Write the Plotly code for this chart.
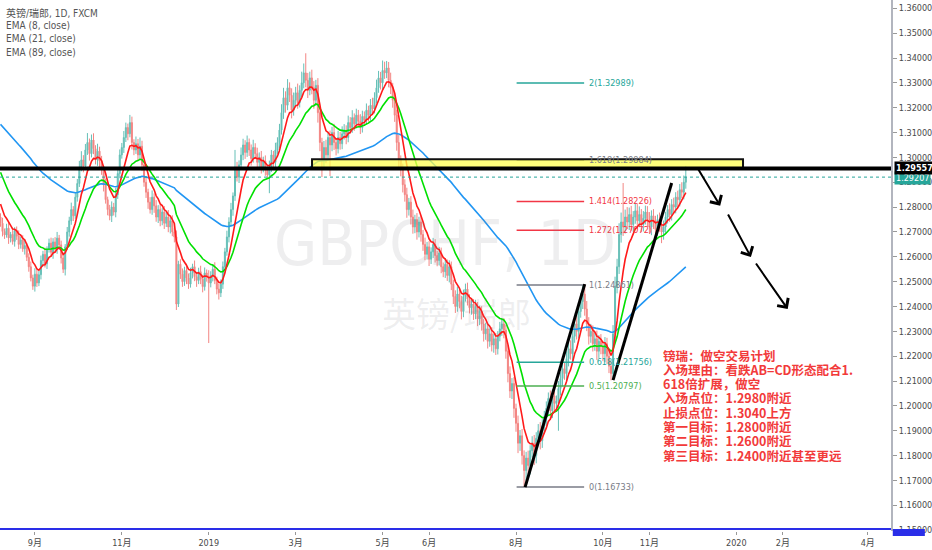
import pandas as pd
import plotly.graph_objects as go

# GBPCHF daily (FXCM), one value per bar. bar 0 = 2018-08-09
first_open = 1.2760
closes = [
    1.2735, 1.2702, 1.2688, 1.2715, 1.2676, 1.2690, 1.2662, 1.2705, 1.2683, 1.2650,
    1.2668, 1.2632, 1.2645, 1.2598, 1.2560, 1.2515, 1.2482, 1.2530, 1.2495, 1.2528,
    1.2585, 1.2610, 1.2572, 1.2630, 1.2655, 1.2618, 1.2660, 1.2632, 1.2675, 1.2648,
    1.2595, 1.2550, 1.2640, 1.2700, 1.2745, 1.2790, 1.2765, 1.2840, 1.2895, 1.2960,
    1.2990, 1.2965, 1.3030, 1.3060, 1.3015, 1.3070, 1.3035, 1.2990, 1.3025, 1.2985,
    1.2950, 1.2890, 1.2830, 1.2790, 1.2765, 1.2800, 1.2780, 1.2850, 1.2935, 1.3010,
    1.3040, 1.3080, 1.3120, 1.3095, 1.3140, 1.3060, 1.3030, 1.3055, 1.3010, 1.3045,
    1.2970, 1.2900, 1.2860, 1.2820, 1.2790, 1.2840, 1.2805, 1.2760, 1.2790, 1.2745,
    1.2780, 1.2735, 1.2760, 1.2720, 1.2745, 1.2700, 1.2680, 1.2410, 1.2570, 1.2530,
    1.2500, 1.2545, 1.2515, 1.2490, 1.2535, 1.2560, 1.2520, 1.2505, 1.2540, 1.2510,
    1.2480, 1.2535, 1.2520, 1.2495, 1.2525, 1.2550, 1.2505, 1.2470, 1.2455, 1.2490,
    1.2560, 1.2620, 1.2680, 1.2740, 1.2790, 1.2845, 1.2960, 1.2920, 1.2970, 1.3010,
    1.3050, 1.3020, 1.3060, 1.3030, 1.2995, 1.3040, 1.3015, 1.2980, 1.3000, 1.2960,
    1.2985, 1.2950, 1.2930, 1.2960, 1.3010, 1.2980, 1.3030, 1.3060, 1.3110, 1.3180,
    1.3240, 1.3210, 1.3280, 1.3250, 1.3190, 1.3230, 1.3260, 1.3220, 1.3270, 1.3300,
    1.3340, 1.3310, 1.3270, 1.3320, 1.3280, 1.3230, 1.3290, 1.3180, 1.3060, 1.2990,
    1.3040, 1.3010, 1.3080, 1.3050, 1.3100, 1.3060, 1.3035, 1.3080, 1.3055, 1.3095,
    1.3110, 1.3080, 1.3140, 1.3120, 1.3160, 1.3135, 1.3170, 1.3145, 1.3120, 1.3165,
    1.3150, 1.3190, 1.3170, 1.3210, 1.3195, 1.3240, 1.3280, 1.3320, 1.3300, 1.3350,
    1.3340, 1.3360, 1.3310, 1.3280, 1.3230, 1.3170, 1.3060, 1.2990, 1.2950, 1.2890,
    1.2850, 1.2790, 1.2820, 1.2760, 1.2720, 1.2750, 1.2700, 1.2740, 1.2690, 1.2650,
    1.2610, 1.2640, 1.2590, 1.2620, 1.2650, 1.2605, 1.2585, 1.2615, 1.2560, 1.2540,
    1.2570, 1.2525, 1.2560, 1.2490, 1.2440, 1.2400, 1.2450, 1.2420, 1.2380, 1.2440,
    1.2470, 1.2430, 1.2395, 1.2410, 1.2370, 1.2400, 1.2350, 1.2380, 1.2330, 1.2290,
    1.2310, 1.2260, 1.2290, 1.2245, 1.2270, 1.2230, 1.2280, 1.2310, 1.2330, 1.2305,
    1.2220, 1.2130, 1.2060, 1.2090, 1.1990, 1.1930, 1.1850, 1.1880, 1.1800, 1.1740,
    1.1790, 1.1760, 1.1820, 1.1850, 1.1800, 1.1870, 1.1900, 1.1860, 1.1920, 1.1950,
    1.1990, 1.2030, 1.1980, 1.2040, 1.2010, 1.2020, 1.2070, 1.2110, 1.2150, 1.2130,
    1.2190, 1.2230, 1.2210, 1.2280, 1.2330, 1.2300, 1.2380, 1.2420, 1.2450, 1.2390,
    1.2330, 1.2280, 1.2300, 1.2250, 1.2270, 1.2220, 1.2260, 1.2240, 1.2210, 1.2250,
    1.2200, 1.2160, 1.2130, 1.2290, 1.2480, 1.2560, 1.2690, 1.2740, 1.2720, 1.2760,
    1.2740, 1.2770, 1.2730, 1.2760, 1.2785, 1.2745, 1.2770, 1.2730, 1.2755, 1.2780,
    1.2750, 1.2720, 1.2765, 1.2740, 1.2710, 1.2750, 1.2730, 1.2700, 1.2720, 1.2760,
    1.2790, 1.2770, 1.2810, 1.2800, 1.2840, 1.2830, 1.2870, 1.2860, 1.2900, 1.29207,
]
# wick lengths above / below the body, in pips
wick_up = [
    15, 22, 12, 18, 25, 10, 20, 14, 17, 23,
    12, 19, 26, 11, 16, 21, 13, 24, 18, 15,
    20, 14, 27, 12, 18, 22, 15, 19, 25, 13,
    17, 23, 11, 20, 16, 28, 14, 21, 18, 26,
    35, 19, 24, 38, 16, 22, 27, 14, 30, 18,
    21, 15, 25, 12, 19, 23, 17, 28, 14, 22,
    18, 26, 20, 16, 31, 24, 13, 29, 19, 35,
    22, 17, 25, 14, 20, 27, 15, 23, 18, 21,
    16, 24, 19, 28, 13, 22, 17, 26, 14, 20,
    23, 15, 27, 18, 21, 12, 25, 19, 16, 24,
    18, 22, 14, 26, 17, 20, 28, 15, 23, 19,
    21, 16, 25, 19, 27, 14, 70, 22, 18, 30,
    25, 19, 28, 16, 22, 31, 17, 24, 20, 26,
    18, 23, 15, 27, 20, 16, 29, 21, 25, 34,
    40, 26, 35, 22, 28, 31, 24, 37, 20, 45,
    38, 79, 30, 25, 33, 27, 22, 29, 24, 19,
    26, 31, 20, 28, 23, 35, 18, 27, 22, 30,
    24, 19, 28, 22, 30, 17, 26, 21, 29, 23,
    20, 27, 18, 25, 30, 22, 33, 28, 24, 40,
    35, 28, 24, 31, 20, 26, 22, 30, 18, 25,
    22, 28, 17, 24, 30, 19, 26, 21, 25, 18,
    27, 20, 23, 18, 26, 21, 19, 25, 22, 17,
    24, 19, 26, 21, 18, 25, 30, 17, 23, 28,
    22, 26, 19, 24, 20, 27, 18, 23, 21, 19,
    25, 18, 22, 27, 19, 24, 21, 28, 20, 23,
    20, 24, 29, 22, 26, 19, 31, 23, 27, 21,
    25, 30, 22, 28, 33, 24, 27, 35, 26, 30,
    28, 24, 32, 26, 29, 22, 30, 25, 33, 27,
    30, 26, 34, 28, 31, 35, 29, 33, 36, 40,
    32, 27, 30, 24, 28, 33, 25, 29, 22, 27,
    24, 28, 21, 35, 40, 32, 45, 38, 157, 30,
    40, 28, 35, 24, 31, 27, 33, 22, 29, 26,
    24, 30, 22, 27, 25, 20, 28, 23, 26, 21,
    18, 25, 22, 28, 20, 26, 23, 30, 27, 45,
]
wick_dn = [
    14, 20, 16, 11, 24, 18, 13, 21, 15, 19,
    17, 12, 23, 15, 20, 14, 15, 22, 16, 13,
    19, 24, 15, 21, 13, 18, 26, 14, 20, 17,
    22, 15, 25, 13, 19, 16, 21, 12, 18, 14,
    16, 25, 13, 20, 28, 15, 22, 18, 24, 30,
    20, 27, 16, 23, 18, 25, 14, 21, 17, 19,
    15, 22, 18, 26, 14, 28, 21, 16, 24, 19,
    25, 18, 23, 27, 16, 21, 28, 19, 24, 22,
    18, 23, 15, 21, 26, 17, 22, 24, 12, 19,
    21, 17, 25, 19, 14, 22, 18, 26, 15, 20,
    23, 16, 20, 242, 18, 24, 15, 21, 27, 17,
    19, 24, 16, 22, 18, 25, 20, 17, 23, 15,
    21, 26, 18, 24, 28, 16, 22, 27, 19, 25,
    20, 24, 17, 74, 19, 26, 21, 16, 23, 18,
    25, 30, 20, 27, 33, 22, 28, 24, 19, 26,
    22, 28, 31, 20, 26, 34, 23, 40, 35, 69,
    28, 33, 21, 125, 25, 30, 27, 19, 24, 22,
    23, 27, 19, 25, 21, 28, 18, 24, 26, 20,
    22, 19, 26, 21, 24, 18, 23, 20, 27, 25,
    24, 21, 28, 25, 30, 27, 33, 29, 26, 31,
    28, 33, 24, 30, 27, 25, 31, 22, 29, 26,
    24, 21, 27, 19, 25, 28, 23, 20, 26, 22,
    25, 22, 28, 24, 30, 26, 21, 27, 32, 23,
    20, 26, 23, 28, 24, 21, 29, 25, 27, 31,
    24, 29, 22, 26, 31, 25, 23, 20, 28, 33,
    30, 35, 28, 32, 38, 34, 40, 31, 36, 67,
    40, 33, 36, 28, 38, 31, 27, 35, 29, 33,
    30, 27, 35, 29, 32, 26, 120, 28, 31, 25,
    27, 31, 24, 29, 26, 33, 28, 25, 30, 27,
    29, 33, 26, 31, 28, 35, 27, 32, 30, 34,
    31, 28, 27, 25, 30, 27, 29, 33, 36, 26,
    28, 32, 25, 30, 27, 34, 26, 31, 28, 25,
    30, 27, 33, 28, 35, 26, 29, 45, 31, 27,
    26, 29, 24, 28, 25, 30, 27, 24, 29, 26,
]

# EMA values just left of the first visible bar
ema_seed = {8: 1.2834, 21: 1.2961, 89: 1.3142}
ema_colors = {8: "#ff1a1a", 21: "#00e000", 89: "#2196f3"}

# fib extension: A = Aug low, B = Sep high
fib_a = 1.16733
fib_b = 1.24861
fib_levels = [0, 0.5, 0.618, 1, 1.272, 1.414, 1.618, 2]
fib_colors = ["#787b86", "#4caf50", "#26a69a", "#787b86",
              "#f23645", "#f23645", "#787b86", "#26a69a"]

resistance = 1.29557
zone_top = 1.2993
bottom_line = 1.15047

tick_dates = ["2018-09-03", "2018-11-01", "2019-01-01", "2019-03-01", "2019-05-01",
              "2019-06-03", "2019-08-01", "2019-10-01", "2019-11-01", "2020-01-01",
              "2020-02-03", "2020-04-01"]
tick_text = ["9月", "11月", "2019", "3月", "5月", "6月", "8月", "10月", "11月",
             "2020", "2月", "4月"]

plan_lines = [
    "镑瑞：做空交易计划",
    "入场理由：看跌AB=CD形态配合1.",
    "618倍扩展，做空",
    "入场点位：1.2980附近",
    "止损点位：1.3040上方",
    "第一目标：1.2800附近",
    "第二目标：1.2600附近",
    "第三目标：1.2400附近甚至更远",
]

# drawings, in (bar, price)
ab_leg = [(259.5, 1.16733), (289.0, 1.2490)]
cd_leg = [(303.0, 1.2104), (332.0, 1.2897)]
arrows = [((344.2, 1.2965), (356.0, 1.2805)),
          ((359.5, 1.2776), (371.2, 1.2599)),
          ((373.2, 1.2579), (389.4, 1.2390))]
zone_x = (154.1, 367.3)
fib_x = (255.3, 288.7)

# ---------------------------------------------------------------
n = len(closes)
opens = [first_open] + closes[:-1]
highs = [max(o, c) + u * 1e-4 for o, c, u in zip(opens, closes, wick_up)]
lows = [min(o, c) - d * 1e-4 for o, c, d in zip(opens, closes, wick_dn)]
bars = list(range(n))

dates = pd.bdate_range("2018-08-09", periods=460)
tick_pos = list(dates.get_indexer(pd.to_datetime(tick_dates)))


def ema(values, length, seed):
    a = 2.0 / (length + 1)
    out, e = [], seed
    for v in values:
        e = a * v + (1 - a) * e
        out.append(e)
    return out


W, H = 932, 550
ML, MR, MT, MB = 0, 35, 0, 19
PW, PH = W - ML - MR, H - MT - MB


def px(x):
    return x / PW


def py(y):
    return 1 - y / PH


NARROW = "Liberation Sans Narrow, DejaVu Sans Condensed, Noto Sans CJK SC, sans-serif"
CJK = "Noto Sans CJK SC, sans-serif"

fig = go.Figure()
fig.add_trace(go.Candlestick(
    x=bars, open=opens, high=highs, low=lows, close=closes,
    increasing=dict(line=dict(color="#26a69a", width=1), fillcolor="#26a69a"),
    decreasing=dict(line=dict(color="#ef5350", width=1), fillcolor="#ef5350"),
    opacity=0.7, showlegend=False, hoverinfo="skip",
))
for length in (89, 21, 8):
    fig.add_trace(go.Scatter(
        x=bars, y=ema(closes, length, ema_seed[length]), mode="lines",
        line=dict(color=ema_colors[length], width=1.6), showlegend=False, hoverinfo="skip",
    ))

shapes = []
annotations = []

# fib levels
for lvl, col in zip(fib_levels, fib_colors):
    price = fib_a + lvl * (fib_b - fib_a)
    shapes.append(dict(type="line", xref="x", yref="y", x0=fib_x[0], x1=fib_x[1],
                       y0=price, y1=price, line=dict(color=col, width=1.5)))
    annotations.append(dict(xref="x", yref="y", x=fib_x[1] + 1.5, y=price,
                            text=f"{lvl}({price:.5f})", showarrow=False,
                            xanchor="left", yanchor="middle",
                            font=dict(family=NARROW, size=9, color=col)))

# current price dotted line
last = closes[-1]
shapes.append(dict(type="line", xref="paper", yref="y", x0=0, x1=1, y0=last, y1=last,
                   line=dict(color="#26a69a", width=1, dash="dot")))
# resistance zone + line
shapes.append(dict(type="rect", xref="x", yref="y", x0=zone_x[0], x1=zone_x[1],
                   y0=resistance, y1=zone_top, fillcolor="rgba(255,255,80,0.75)",
                   line=dict(color="#111", width=2), layer="above"))
shapes.append(dict(type="line", xref="paper", yref="y", x0=0, x1=1,
                   y0=resistance, y1=resistance, line=dict(color="#000", width=4)))
# blue line at the bottom
shapes.append(dict(type="line", xref="paper", yref="y", x0=0, x1=1,
                   y0=bottom_line, y1=bottom_line, line=dict(color="#2a2ee8", width=2)))
shapes.append(dict(type="rect", xref="paper", yref="paper", x0=1.002, x1=1.038,
                   y0=py(536), y1=py(529), fillcolor="#2a2ee8", line=dict(width=0)))
# AB and CD legs
for leg in (ab_leg, cd_leg):
    shapes.append(dict(type="line", xref="x", yref="y", x0=leg[0][0], y0=leg[0][1],
                       x1=leg[1][0], y1=leg[1][1], line=dict(color="#000", width=3)))
# projected path arrows
for (x0, y0), (x1, y1) in arrows:
    annotations.append(dict(xref="x", yref="y", x=x1, y=y1, axref="x", ayref="y",
                            ax=x0, ay=y0, text="", showarrow=True, arrowhead=4,
                            arrowsize=1.3, arrowwidth=2, arrowcolor="#000"))

# axis price labels
annotations.append(dict(xref="paper", yref="y", x=1.003, y=last - 0.0004,
                        text=f"{last:.5f}", showarrow=False, xanchor="left",
                        bgcolor="#26a69a", borderpad=1,
                        font=dict(family=NARROW, size=9, color="#fff")))
annotations.append(dict(xref="paper", yref="y", x=1.003, y=resistance,
                        text=f"<b>{resistance:.5f}</b>", showarrow=False, xanchor="left",
                        bgcolor="#000", borderpad=1,
                        font=dict(family=NARROW, size=9, color="#fff")))

# watermark
annotations.append(dict(xref="paper", yref="paper", x=px(448), y=py(243),
                        text="GBPCHF, 1D", showarrow=False,
                        font=dict(family=NARROW, size=62, color="rgba(120,123,134,0.13)")))
annotations.append(dict(xref="paper", yref="paper", x=px(460), y=py(312),
                        text="英镑/瑞郎", showarrow=False,
                        font=dict(family=CJK, size=34, color="rgba(120,123,134,0.13)")))

# legend text, top-left
legend_rows = ["英镑/瑞郎, 1D, FXCM"] + [f"EMA ({k}, close)" for k in (8, 21, 89)]
for k, t in enumerate(legend_rows):
    annotations.append(dict(xref="paper", yref="paper", x=px(4), y=py(13 + 13 * k),
                            text=t, showarrow=False, xanchor="left", yanchor="middle",
                            font=dict(family=NARROW, size=10, color="#555")))

# trade plan text
for k, t in enumerate(plan_lines):
    annotations.append(dict(xref="paper", yref="paper", x=px(665), y=py(355 + 14.3 * k),
                            text=f"<b>{t}</b>", showarrow=False, xanchor="left",
                            yanchor="middle",
                            font=dict(family=CJK, size=12.5, color="#f23a3a")))

fig.update_layout(
    width=W, height=H, margin=dict(l=ML, r=MR, t=MT, b=MB),
    paper_bgcolor="#fff", plot_bgcolor="#fff",
    shapes=shapes, annotations=annotations, showlegend=False,
    xaxis=dict(range=[-0.25, 440.5], tickvals=tick_pos, ticktext=tick_text,
               ticks="outside", ticklen=3, tickcolor="#999", showgrid=False,
               zeroline=False, showline=False, rangeslider=dict(visible=False),
               tickfont=dict(family=NARROW, size=9, color="#4a4a4a")),
    yaxis=dict(side="right", range=[1.14966, 1.36334], tick0=1.16, dtick=0.01,
               tickformat=".5f", ticks="outside", ticklen=4, tickcolor="#999",
               showgrid=False, zeroline=False, showline=True, linecolor="#b2b5be",
               linewidth=2, tickfont=dict(family=NARROW, size=9, color="#4a4a4a")),
)

fig.write_html("out.html", config={"displayModeBar": False},
               post_script="document.body.style.margin='0px';")
